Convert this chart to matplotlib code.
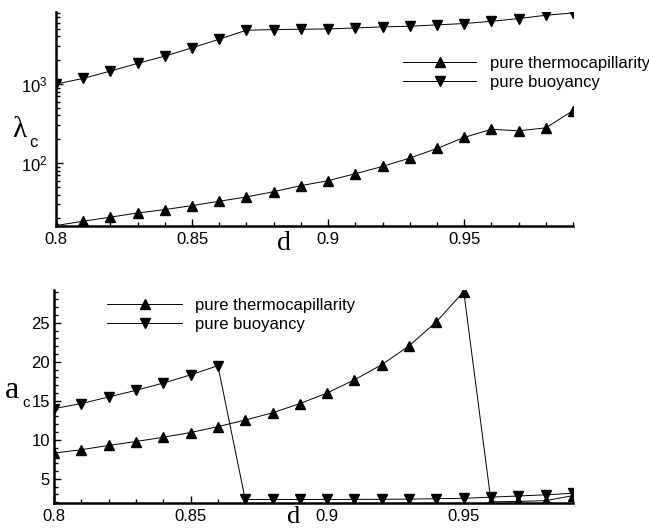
import matplotlib

matplotlib.use("Agg")
import matplotlib.pyplot as plt
from matplotlib.ticker import FuncFormatter, LogLocator, MultipleLocator, NullFormatter

# spacing d, shared by both panels
d = [0.80, 0.81, 0.82, 0.83, 0.84, 0.85, 0.86, 0.87, 0.88, 0.89,
     0.90, 0.91, 0.92, 0.93, 0.94, 0.95, 0.96, 0.97, 0.98, 0.99]

# critical lambda (log axis)
lam_thermo = [16.2, 18.4, 20.7, 23.4, 25.8, 29.0, 32.9, 37.3, 43.5, 51.8,
              59.9, 73.4, 90.7, 115.7, 153, 211, 268, 256, 279, 461]
lam_buoy = [1000, 1178, 1459, 1823, 2255, 2871, 3690, 4797, 4886, 4930,
            4977, 5125, 5283, 5385, 5600, 5823, 6222, 6726, 7413, 7925]

# critical wavenumber, bottom panel
a_thermo = [8.3, 8.73, 9.28, 9.78, 10.33, 10.93, 11.69, 12.53, 13.46, 14.64,
            16.0, 17.69, 19.63, 22.04, 25.13, 29.0, 2.05, 2.1, 2.2, 2.85]
a_buoy = [14.0, 14.64, 15.49, 16.34, 17.27, 18.32, 19.5, 2.35, 2.35, 2.35,
          2.36, 2.36, 2.37, 2.4, 2.45, 2.5, 2.65, 2.8, 2.95, 3.15]

LABELS = ("pure thermocapillarity", "pure buoyancy")
SANS = "Liberation Sans"
SERIF = "Liberation Serif"
W, H = 649, 529

plt.rcParams["font.family"] = SANS
plt.rcParams["font.size"] = 12
plt.rcParams["mathtext.fontset"] = "custom"
plt.rcParams["mathtext.rm"] = SANS


def px(x, y):
    return x / W, 1 - y / H


def style(ax):
    for side in ("top", "right"):
        ax.spines[side].set_visible(False)
    for side in ("left", "bottom"):
        ax.spines[side].set_linewidth(1.8)
    ax.tick_params(which="both", direction="in", labelsize=12, width=1.0)
    ax.tick_params(which="major", length=5)
    ax.tick_params(which="minor", length=3)
    ax.tick_params(axis="x", pad=4)
    ax.set_xlim(0.8, 0.99)
    ax.xaxis.set_major_locator(MultipleLocator(0.05))
    ax.xaxis.set_minor_locator(MultipleLocator(0.01))
    ax.xaxis.set_major_formatter(FuncFormatter(lambda v, _: f"{v:g}"))


def draw(ax, yt, yb):
    kw = dict(color="black", linewidth=0.7, markersize=7)
    ax.plot(d, yt, "-^", label=LABELS[0], **kw)
    ax.plot(d, yb, "-v", label=LABELS[1], **kw)


fig = plt.figure(figsize=(W / 100, H / 100), dpi=100)

ax1 = fig.add_axes([56 / W, 1 - 226 / H, (573 - 56) / W, (226 - 12) / H])
draw(ax1, lam_thermo, lam_buoy)
ax1.set_yscale("log")
ax1.set_ylim(16, 8150)
style(ax1)
ax1.yaxis.set_major_locator(LogLocator(base=10))
ax1.yaxis.set_minor_locator(LogLocator(base=10, subs=range(2, 10)))
ax1.yaxis.set_minor_formatter(NullFormatter())
ax1.tick_params(axis="y", pad=6)
ax1.legend(loc="center left", bbox_to_anchor=px(403, 73),
           bbox_transform=fig.transFigure, frameon=False, fontsize=12,
           borderpad=0, borderaxespad=0, handlelength=4.4,
           handletextpad=0.8, labelspacing=0.25)

ax2 = fig.add_axes([54 / W, 1 - 503 / H, (573 - 54) / W, (503 - 290) / H])
draw(ax2, a_thermo, a_buoy)
ax2.set_ylim(1.9, 29.2)
style(ax2)
ax2.yaxis.set_major_locator(MultipleLocator(5))
ax2.yaxis.set_minor_locator(MultipleLocator(1))
ax2.tick_params(axis="y", pad=3)
ax2.legend(loc="center left", bbox_to_anchor=px(107, 315),
           bbox_transform=fig.transFigure, frameon=False, fontsize=12,
           borderpad=0, borderaxespad=0, handlelength=4.5,
           handletextpad=0.8, labelspacing=0.25)

# axis labels placed by hand, serif letter + sans subscript like the original
fig.text(*px(12, 137), "λ", family=SERIF, fontsize=21, va="baseline")
fig.text(*px(29, 147), "c", family=SANS, fontsize=12, va="baseline")
fig.text(*px(5, 398), "a", family=SERIF, fontsize=23, va="baseline")
fig.text(*px(22, 407), "c", family=SANS, fontsize=11, va="baseline")
fig.text(*px(277, 250), "d", family=SERIF, fontsize=20, va="baseline")
fig.text(*px(287, 523), "d", family=SERIF, fontsize=19, va="baseline")

fig.savefig("out.png", dpi=100)
